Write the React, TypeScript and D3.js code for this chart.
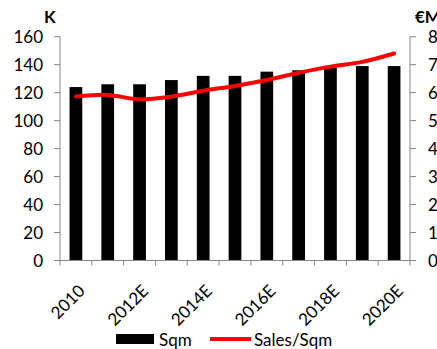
import React from "react";
import * as d3 from "d3";

const categories = ["2010", "2011", "2012E", "2013E", "2014E", "2015E", "2016E", "2017E", "2018E", "2019E", "2020E"];
const tickLabels = ["2010", "2012E", "2014E", "2016E", "2018E", "2020E"];
const sqm = [124, 126, 126, 129, 132, 132, 135, 136, 138, 139, 139];
const salesPerSqm = [5.86, 5.92, 5.76, 5.86, 6.07, 6.24, 6.45, 6.71, 6.93, 7.1, 7.4];
const leftTicks = [0, 20, 40, 60, 80, 100, 120, 140, 160];
const rightTicks = [0, 1, 2, 3, 4, 5, 6, 7, 8];

const W = 437;
const H = 349;
const FONT = "Lato, 'Open Sans', sans-serif";
const AXIS = "#868686";
const FS = 17;

export default function App() {
  const x0 = 60, x1 = 410, yTop = 36.7, yBot = 260.5;
  const x = d3.scaleBand<string>().domain(categories).range([x0, x1]).paddingInner(0.6).paddingOuter(0.3);
  const xb = d3.scaleBand<string>().domain(categories).range([x0, x1]);
  const yL = d3.scaleLinear().domain([0, 160]).range([yBot, yTop]);
  const yR = d3.scaleLinear().domain([0, 8]).range([yBot, yTop]);
  const line = d3
    .line<number>()
    .x((_, i) => (xb(categories[i]) as number) + xb.bandwidth() / 2)
    .y((d) => yR(d))
    .curve(d3.curveCatmullRom.alpha(0.5));
  const boundaries = categories.map((c) => xb(c) as number).concat([x1]);

  return (
    <svg width={W} height={H} style={{ position: "absolute", left: 0, top: 0, background: "#fff" }} fontFamily={FONT}>
      {/* bars */}
      {categories.map((c, i) => (
        <rect key={c} x={x(c)} y={yL(sqm[i])} width={x.bandwidth()} height={yBot - yL(sqm[i])} fill="#000" />
      ))}
      {/* left axis */}
      <line x1={x0} x2={x0} y1={yTop} y2={yBot} stroke={AXIS} strokeWidth={1} />
      {leftTicks.map((t) => (
        <g key={t}>
          <line x1={x0 - 6} x2={x0} y1={yL(t)} y2={yL(t)} stroke={AXIS} />
          <text x={43} y={yL(t)} dy="0.36em" textAnchor="end" fontSize={FS} fill="#000">{t}</text>
        </g>
      ))}
      {/* right axis */}
      <line x1={x1} x2={x1} y1={yTop} y2={yBot} stroke={AXIS} strokeWidth={1} />
      {rightTicks.map((t) => (
        <g key={t}>
          <line x1={x1} x2={x1 + 6} y1={yR(t)} y2={yR(t)} stroke={AXIS} />
          <text x={428} y={yR(t)} dy="0.36em" textAnchor="start" fontSize={FS} fill="#000">{t}</text>
        </g>
      ))}
      {/* x axis */}
      <line x1={x0} x2={x1} y1={yBot} y2={yBot} stroke={AXIS} />
      {boundaries.map((b, i) => (
        <line key={i} x1={b} x2={b} y1={yBot} y2={yBot + 5} stroke={AXIS} />
      ))}
      {tickLabels.map((t) => {
        const cx = (xb(t) as number) + xb.bandwidth() / 2;
        return (
          <text key={t} transform={`translate(${cx + 10},${292}) rotate(-45)`} textAnchor="end" fontSize={FS} fill="#000">{t}</text>
        );
      })}
      {/* line */}
      <path d={line(salesPerSqm) || ""} fill="none" stroke="#FF0000" strokeWidth={4} strokeLinecap="round" />
      {/* titles */}
      <text x={44} y={23} fontSize={FS} fontWeight="bold" fill="#000">K</text>
      <text x={415} y={23} fontSize={FS} fontWeight="bold" fill="#000">€M</text>
      {/* legend */}
      <rect x={116} y={334} width={38} height={10} fill="#000" />
      <text x={159} y={346} fontSize={FS} fill="#000">Sqm</text>
      <line x1={210} x2={251} y1={339} y2={339} stroke="#FF0000" strokeWidth={4} />
      <text x={254} y={346} fontSize={FS} fill="#000">Sales/Sqm</text>
    </svg>
  );
}
